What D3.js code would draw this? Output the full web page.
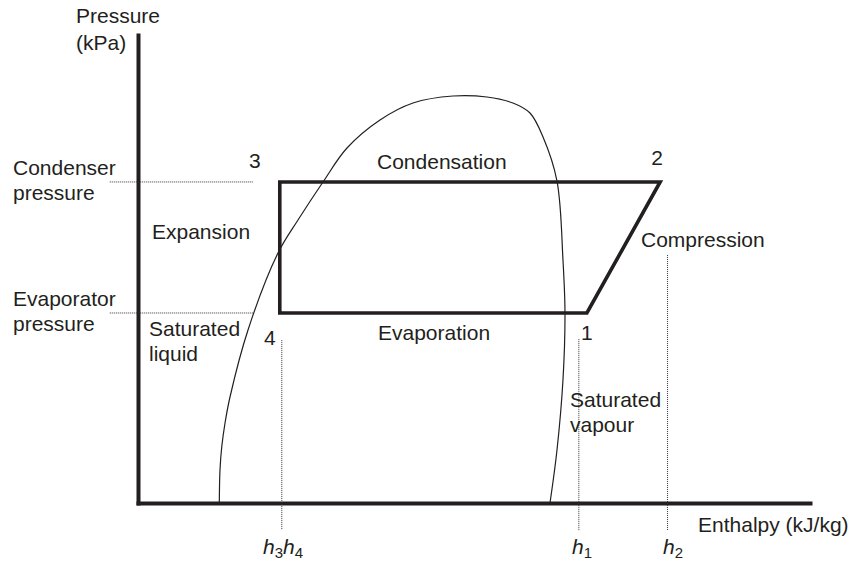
<!DOCTYPE html>
<html>
<head>
<meta charset="utf-8">
<script src="https://cdn.jsdelivr.net/npm/d3@7"></script>
<style>
  body { margin: 0; background: #fff; }
  svg text { font-family: "Liberation Sans", Arial, sans-serif; font-size: 21px; fill: #231f20; }
</style>
</head>
<body>
<svg id="chart"></svg>
<script>
// saturation dome (enthalpy, pressure) in chart units
const domeH = [12.1, 12.2, 12.46, 12.95, 13.69, 16.37, 20.83, 23.81, 27.53, 31.1, 36.01, 40.92, 46.88, 51.93, 55.8, 58.33, 60.27, 62.35, 63.24, 63.54, 63.24, 62.35, 61.31]
const domeP = [0, 7.05, 11.97, 17.09, 22.65, 36.97, 53.42, 60.47, 68.59, 75.85, 81.84, 85.47, 86.97, 86.75, 85.47, 83.33, 78.21, 68.8, 51.92, 40.6, 26.28, 11.32, 0]

// refrigeration cycle states 3 -> 2 -> 1 -> 4
const stateNames = ["3", "2", "1", "4"]
const stateH = [21.1, 77.7, 66.8, 21.1]
const stateP = [68.6, 68.6, 40.6, 40.6]

// pressure levels marked on the y axis
const pressureNames = [["Condenser", "pressure"], ["Evaporator", "pressure"]]
const pressureLevels = [68.6, 40.6]

// enthalpy markers on the x axis
const enthalpyNames = [["3", "4"], ["1"], ["2"]]
const enthalpyValues = [21.4, 65.6, 78.8]
const enthalpyTops = [34.8, 35.0, 53.0]

const processNames = ["Condensation", "Expansion", "Compression", "Evaporation"]

document.addEventListener("DOMContentLoaded", function() {
    drawChart()
})

function drawChart() {
    let svgWidth = 858,
        svgHeight = 561,
        ink = "#231f20"

    let svg = d3.select("#chart")
        .attr("width", svgWidth)
        .attr("height", svgHeight)

    let x = d3.scaleLinear().domain([0, 100]).range([138, 810])
    let y = d3.scaleLinear().domain([0, 100]).range([503, 35])

    // axes without ticks, just heavy lines
    svg.append("g")
        .attr("transform", `translate(${x(0)},0)`)
        .call(d3.axisLeft(y).tickValues([]).tickSizeOuter(0))
    svg.append("g")
        .attr("transform", `translate(0,${y(0)})`)
        .call(d3.axisBottom(x).tickValues([]).tickSizeOuter(0))
    svg.selectAll(".domain")
        .attr("stroke", ink)
        .attr("stroke-width", 4)
        .attr("stroke-linecap", "square")

    // dotted guide lines for pressure levels
    svg.selectAll(".pguide")
        .data(pressureLevels)
        .enter().append("line")
        .attr("x1", x(-4.2)).attr("x2", x(17.1))
        .attr("y1", d => y(d)).attr("y2", d => y(d))
        .attr("stroke", "#333").attr("stroke-width", 1)
        .attr("stroke-dasharray", "1,1")

    // dotted guide lines for enthalpy values
    svg.selectAll(".hguide")
        .data(enthalpyValues)
        .enter().append("line")
        .attr("x1", d => x(d)).attr("x2", d => x(d))
        .attr("y1", (d, i) => y(enthalpyTops[i])).attr("y2", y(-5.8))
        .attr("stroke", "#333").attr("stroke-width", 1)
        .attr("stroke-dasharray", "1,1")

    // saturation dome
    let dome = d3.line()
        .x(d => x(d[0]))
        .y(d => y(d[1]))
        .curve(d3.curveCatmullRom.alpha(0.5))
    svg.append("path")
        .datum(domeH.map((h, i) => [h, domeP[i]]))
        .attr("fill", "none")
        .attr("stroke", ink)
        .attr("stroke-width", 1.2)
        .attr("d", dome)

    // cycle
    let cycle = d3.line()
        .x(d => x(d[0]))
        .y(d => y(d[1]))
        .curve(d3.curveLinearClosed)
    svg.append("path")
        .datum(stateH.map((h, i) => [h, stateP[i]]))
        .attr("fill", "none")
        .attr("stroke", ink)
        .attr("stroke-width", 3.6)
        .attr("stroke-linejoin", "miter")
        .attr("d", cycle)

    // state numbers, offset from their points
    let stateOffsets = [[-25, -14], [-3, -17], [0, 27], [-10, 32]]
    svg.selectAll(".state")
        .data(stateNames)
        .enter().append("text")
        .attr("x", (d, i) => x(stateH[i]) + stateOffsets[i][0])
        .attr("y", (d, i) => y(stateP[i]) + stateOffsets[i][1])
        .attr("text-anchor", "middle")
        .text(d => d)

    // process labels
    let processPos = [[377, 169], [152, 239], [641, 247], [378, 340]]
    svg.selectAll(".process")
        .data(processNames)
        .enter().append("text")
        .attr("x", (d, i) => processPos[i][0])
        .attr("y", (d, i) => processPos[i][1])
        .text(d => d)

    // two-line labels
    function twoLine(lines, px, py, gap) {
        let t = svg.append("text").attr("x", px).attr("y", py)
        lines.forEach((s, i) => {
            t.append("tspan").attr("x", px).attr("dy", i ? gap : 0).text(s)
        })
    }
    twoLine(["Pressure", "(kPa)"], 76, 23, 27)
    pressureNames.forEach((lines, i) => twoLine(lines, 13, y(pressureLevels[i]) - 7, 25.5))
    twoLine(["Saturated", "liquid"], 149, 336, 24.5)
    twoLine(["Saturated", "vapour"], 570, 407, 25)

    svg.append("text")
        .attr("x", 698).attr("y", 532)
        .text("Enthalpy (kJ/kg)")

    // h labels under the x axis, italic h with subscript
    let hStarts = [263, 572, 663]
    enthalpyNames.forEach((subs, i) => {
        let t = svg.append("text").attr("x", hStarts[i]).attr("y", 554)
        subs.forEach((s, j) => {
            t.append("tspan").attr("font-style", "italic").attr("dy", j ? -4 : 0).text("h")
            t.append("tspan").attr("font-size", "15px").attr("dy", 4).text(s)
        })
    })
}
</script>
</body>
</html>
